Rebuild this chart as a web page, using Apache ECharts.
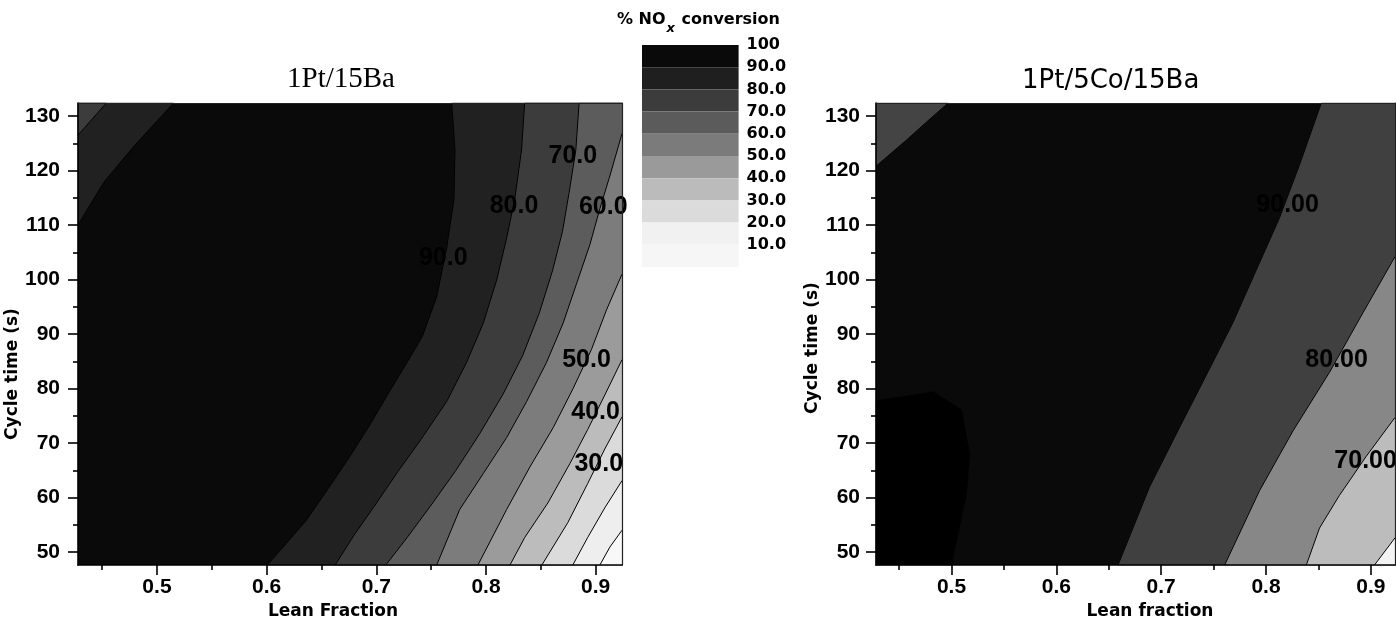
<!DOCTYPE html>
<html><head><meta charset="utf-8">
<script src="https://cdn.jsdelivr.net/npm/echarts@6/dist/echarts.min.js"></script>
<style>html,body{margin:0;padding:0;background:#fff}#c{width:1396px;height:625px}</style>
</head><body><div id="c"></div>
<script>
// ---------- tick labels ----------
const xTicks = [0.5, 0.6, 0.7, 0.8, 0.9];
const yTicks = [50, 60, 70, 80, 90, 100, 110, 120, 130];
const legendTicks = [100, 90, 80, 70, 60, 50, 40, 30, 20, 10];
const legendColors = ['#0a0a0a', '#1f1f1f', '#3c3c3c', '#5b5b5b', '#7b7b7b', '#9a9a9a', '#bbbbbb', '#dbdbdb', '#f1f1f1', '#f6f6f6'];

// ---------- axis extents ----------
const xRangeL = [0.428, 0.924], yRangeL = [47.6, 132.4];
const xRangeR = [0.428, 0.923], yRangeR = [47.6, 132.4];

// ---------- left plot (1Pt/15Ba) contour lines [lean fraction, cycle time] ----------
const L90corner = [[0.428, 110.0], [0.4514, 117.8], [0.4787, 124.4], [0.5152, 132.4]];
const L80corner = [[0.428, 126.5], [0.4539, 132.4]];
const L90 = [[0.7687, 132.4], [0.7717, 123.8], [0.7708, 114.8], [0.7641, 105.8], [0.7550, 96.8], [0.7420, 89.6], [0.7280, 84.8], [0.7100, 78.8], [0.6943, 73.4], [0.6760, 67.6], [0.6560, 61.6], [0.6360, 55.8], [0.6180, 51.6], [0.6005, 47.6]];
const L80 = [[0.8352, 132.4], [0.8324, 123.8], [0.8262, 114.8], [0.8188, 107.6], [0.8097, 99.9], [0.7975, 92.0], [0.7823, 84.8], [0.7641, 77.6], [0.7398, 70.4], [0.7198, 64.8], [0.6988, 58.6], [0.6797, 53.1], [0.6624, 47.6]];
const L70 = [[0.8849, 132.4], [0.8819, 123.8], [0.8758, 116.0], [0.8697, 108.8], [0.8606, 101.6], [0.8485, 93.8], [0.8333, 86.0], [0.8151, 78.8], [0.7939, 71.6], [0.7726, 65.0], [0.7514, 59.0], [0.7290, 52.9], [0.7086, 47.6]];
const L60 = [[0.924, 126.8], [0.9129, 119.0], [0.9038, 113.0], [0.8947, 106.4], [0.8825, 99.2], [0.8703, 92.0], [0.8552, 84.8], [0.8370, 77.6], [0.8188, 71.0], [0.7975, 64.4], [0.7760, 57.8], [0.7550, 47.6]];
const L50 = [[0.924, 101.0], [0.9098, 94.4], [0.8962, 87.2], [0.8794, 80.0], [0.8612, 72.8], [0.8400, 65.6], [0.8188, 57.8], [0.7926, 47.6]];
const L40 = [[0.924, 85.3], [0.9083, 78.8], [0.8928, 72.5], [0.8764, 66.2], [0.8564, 59.0], [0.8354, 52.7], [0.8218, 47.6]];
const L30 = [[0.924, 74.8], [0.9083, 68.9], [0.8928, 62.6], [0.8746, 55.4], [0.8509, 47.6]];
const L20 = [[0.924, 63.1], [0.9083, 58.1], [0.8928, 52.7], [0.8791, 47.6]];
const L10 = [[0.924, 54.0], [0.9129, 50.9], [0.9038, 47.6]];
const leftLabels = [['90.0', 0.761, 104.0], ['80.0', 0.8255, 113.5], ['70.0', 0.8792, 122.7], ['60.0', 0.9069, 113.3], ['50.0', 0.8916, 85.3], ['40.0', 0.8999, 75.7], ['30.0', 0.9028, 66.2]];

// ---------- right plot (1Pt/5Co/15Ba) contour lines ----------
const R100 = [[0.428, 77.75], [0.4825, 79.4], [0.5095, 76.1], [0.5174, 68.0], [0.5143, 60.7], [0.5, 47.6]];
const R90corner = [[0.428, 120.8], [0.4571, 125.6], [0.4762, 128.9], [0.4968, 132.4]];
const R90 = [[0.8527, 132.4], [0.8320, 121.1], [0.8130, 111.4], [0.7908, 101.8], [0.7684, 92.1], [0.7431, 82.5], [0.7176, 72.9], [0.6890, 62.0], [0.6588, 47.6]];
const R80 = [[0.923, 104.2], [0.8924, 93.9], [0.8606, 83.0], [0.8256, 72.2], [0.7939, 61.3], [0.7605, 47.6]];
const R70 = [[0.923, 74.7], [0.8957, 67.6], [0.8700, 60.4], [0.8510, 54.4], [0.8384, 47.6]];
const R60 = [[0.923, 52.6], [0.9034, 47.6]];
const rightLabels = [['90.00', 0.8206, 113.6], ['80.00', 0.8673, 85.2], ['70.00', 0.8950, 66.7]];

// ---------- region builders ----------
const toRight = (line, xr, yr) => line.concat([[xr[1], yr[0]], [xr[1], line[0][1]]]);
const toTopLeft = (line, xr, yr) => line.concat([[xr[0], yr[1]]]);
const toBottomLeft = (line, xr, yr) => line.concat([[xr[0], yr[0]]]);

const leftRegions = [
  { pts: toTopLeft(L90corner, xRangeL, yRangeL), color: '#212121' },
  { pts: toTopLeft(L80corner, xRangeL, yRangeL), color: '#3c3c3c' },
  { pts: toRight(L90, xRangeL, yRangeL), color: '#212121' },
  { pts: toRight(L80, xRangeL, yRangeL), color: '#3c3c3c' },
  { pts: toRight(L70, xRangeL, yRangeL), color: '#5c5c5c' },
  { pts: toRight(L60, xRangeL, yRangeL), color: '#7c7c7c' },
  { pts: toRight(L50, xRangeL, yRangeL), color: '#9b9b9b' },
  { pts: toRight(L40, xRangeL, yRangeL), color: '#bcbcbc' },
  { pts: toRight(L30, xRangeL, yRangeL), color: '#dbdbdb' },
  { pts: toRight(L20, xRangeL, yRangeL), color: '#eeeeee' },
  { pts: toRight(L10, xRangeL, yRangeL), color: '#f8f8f8' }
];
const rightRegions = [
  { pts: toBottomLeft(R100, xRangeR, yRangeR), color: '#000000' },
  { pts: toTopLeft(R90corner, xRangeR, yRangeR), color: '#444444' },
  { pts: toRight(R90, xRangeR, yRangeR), color: '#404040' },
  { pts: toRight(R80, xRangeR, yRangeR), color: '#878787' },
  { pts: toRight(R70, xRangeR, yRangeR), color: '#bcbcbc' },
  { pts: toRight(R60, xRangeR, yRangeR), color: '#f3f3f3' }
];

const tickFont = { fontFamily: 'Liberation Sans', fontWeight: 'bold', fontSize: 21, color: '#000' };
const nameFont = { fontFamily: 'DejaVu Sans', fontWeight: 'bold', fontSize: 17, color: '#000' };

function mainX(gi, r, name, pad) {
  return {
    type: 'value', gridIndex: gi, position: 'bottom', min: r[0], max: r[1], minInterval: 0.1, maxInterval: 0.1, z: 10,
    axisLine: { show: true, onZero: false, lineStyle: { color: '#000', width: 1.6 } },
    axisTick: { show: true, length: 10, customValues: xTicks, lineStyle: { color: '#000', width: 1.6 } },
    minorTick: { show: true, splitNumber: 2, length: 5, lineStyle: { color: '#000', width: 1.6 } },
    axisLabel: Object.assign({ customValues: xTicks, margin: 12, formatter: v => v.toFixed(1) }, tickFont),
    splitLine: { show: false },
    name: name, nameLocation: 'middle', nameGap: 31, nameTextStyle: Object.assign({ padding: pad }, nameFont)
  };
}
function mainY(gi, r, name, pad, margin) {
  return {
    type: 'value', gridIndex: gi, position: 'left', min: r[0], max: r[1], minInterval: 10, maxInterval: 10, z: 10,
    axisLine: { show: true, onZero: false, lineStyle: { color: '#000', width: 1.6 } },
    axisTick: { show: true, length: 10, customValues: yTicks, lineStyle: { color: '#000', width: 1.6 } },
    minorTick: { show: true, splitNumber: 2, length: 5, lineStyle: { color: '#000', width: 1.6 } },
    axisLabel: Object.assign({ customValues: yTicks, margin: margin }, tickFont),
    splitLine: { show: false },
    name: name, nameLocation: 'middle', nameGap: 49, nameTextStyle: Object.assign({ padding: pad }, nameFont)
  };
}
function frameX(gi, r) {
  return { type: 'value', gridIndex: gi, position: 'top', min: r[0], max: r[1], z: 10,
    axisLine: { show: true, onZero: false, lineStyle: { color: '#222', width: 1.2 } },
    axisTick: { show: false }, axisLabel: { show: false }, splitLine: { show: false } };
}
function frameY(gi, r) {
  return { type: 'value', gridIndex: gi, position: 'right', min: r[0], max: r[1], z: 10,
    axisLine: { show: true, onZero: false, lineStyle: { color: '#222', width: 1.2 } },
    axisTick: { show: false }, axisLabel: { show: false }, splitLine: { show: false } };
}

function fillSeries(xi, yi, regions) {
  return {
    type: 'custom', xAxisIndex: xi, yAxisIndex: yi, silent: true, z: 1, animation: false,
    data: regions.map((r, i) => [r.pts[0][0], r.pts[0][1], i]),
    encode: { x: 0, y: 1 },
    renderItem: (params, api) => {
      const reg = regions[params.dataIndex];
      return { type: 'polygon', shape: { points: reg.pts.map(p => api.coord(p)) }, style: { fill: reg.color, stroke: reg.color, lineWidth: 0.5 } };
    }
  };
}
function lineSeries(xi, yi, pts) {
  return { type: 'line', xAxisIndex: xi, yAxisIndex: yi, data: pts, showSymbol: false, symbol: 'none', silent: true,
    z: 3, animation: false, lineStyle: { color: '#000', width: 1 } };
}
function labelSeries(xi, yi, labels) {
  return { type: 'custom', xAxisIndex: xi, yAxisIndex: yi, silent: true, z: 5, animation: false,
    data: labels.map(l => [l[1], l[2]]),
    encode: { x: 0, y: 1 },
    renderItem: (params, api) => {
      const p = api.coord([api.value(0), api.value(1)]);
      return { type: 'text', x: p[0], y: p[1], style: { text: labels[params.dataIndex][0], fill: '#000',
        font: 'bold 25px "Liberation Sans", Arial, sans-serif', align: 'center', verticalAlign: 'middle' } };
    } };
}

const series = [
  fillSeries(0, 0, leftRegions),
  ...[L90corner, L80corner, L90, L80, L70, L60, L50, L40, L30, L20, L10].map(l => lineSeries(0, 0, l)),
  labelSeries(0, 0, leftLabels),
  fillSeries(2, 2, rightRegions),
  ...[R90corner, R90, R80, R70, R60].map(l => lineSeries(2, 2, l)),
  labelSeries(2, 2, rightLabels),
  {
    type: 'custom', xAxisIndex: 4, yAxisIndex: 4, silent: true, animation: false,
    data: legendTicks.map((t, i) => [0, t, i]),
    renderItem: (params, api) => {
      const hi = legendTicks[params.dataIndex];
      const p1 = api.coord([0, hi]);
      const p2 = api.coord([1, hi - 10]);
      return { type: 'rect', shape: { x: p1[0], y: p1[1], width: p2[0] - p1[0], height: p2[1] - p1[1] },
        style: { fill: legendColors[params.dataIndex] } };
    }
  }
];

const option = {
  animation: false,
  backgroundColor: '#fff',
  title: [
    { text: '1Pt/15Ba', left: 287, top: 65, padding: 0, textStyle: { fontFamily: 'Liberation Serif', fontSize: 29, fontWeight: 'normal', color: '#000' } },
    { text: '1Pt/5Co/15Ba', left: 1022, top: 68, padding: 0, textStyle: { fontFamily: 'DejaVu Sans', fontSize: 26, fontWeight: 'normal', color: '#000' } },
    { text: '{n|% NO}{s|x}{n| conversion}', left: 617, top: 12, padding: 0,
      textStyle: { rich: {
        n: { fontFamily: 'DejaVu Sans', fontWeight: 'bold', fontSize: 16, lineHeight: 16, verticalAlign: 'top', color: '#000' },
        s: { fontFamily: 'DejaVu Sans', fontWeight: 'bold', fontStyle: 'italic', fontSize: 13, lineHeight: 13, padding: [10, 1, 0, 1], verticalAlign: 'top', color: '#000' }
      } } }
  ],
  grid: [
    { left: 78, top: 103, width: 544, height: 470, show: true, backgroundColor: '#0a0a0a', borderWidth: 0 },
    { left: 876, top: 103, width: 519, height: 470, show: true, backgroundColor: '#0a0a0a', borderWidth: 0 },
    { left: 642, top: 45, width: 96.6, height: 222 }
  ],
  xAxis: [
    mainX(0, xRangeL, 'Lean Fraction', [0, 34, 0, 0]),
    frameX(0, xRangeL),
    mainX(1, xRangeR, 'Lean fraction', [0, 0, 0, 29]),
    frameX(1, xRangeR),
    { type: 'value', gridIndex: 2, min: 0, max: 1, show: false }
  ],
  yAxis: [
    mainY(0, yRangeL, 'Cycle time (s)', [0, 80, 0, 0], 18),
    frameY(0, yRangeL),
    mainY(1, yRangeR, 'Cycle time (s)', [0, 28, 0, 0], 16),
    frameY(1, yRangeR),
    { type: 'value', gridIndex: 2, min: 0, max: 100, position: 'right',
      axisLine: { show: false }, axisTick: { show: false }, splitLine: { show: false },
      axisLabel: { customValues: legendTicks, margin: 8, padding: [11, 0, 0, 0], formatter: v => v === 100 ? '100' : v.toFixed(1),
        fontFamily: 'DejaVu Sans', fontWeight: 'bold', fontSize: 16, color: '#000' } }
  ],
  series: series
};
const chart = echarts.init(document.getElementById('c'), null, { renderer: 'canvas' });
chart.setOption(option);
</script></body></html>
